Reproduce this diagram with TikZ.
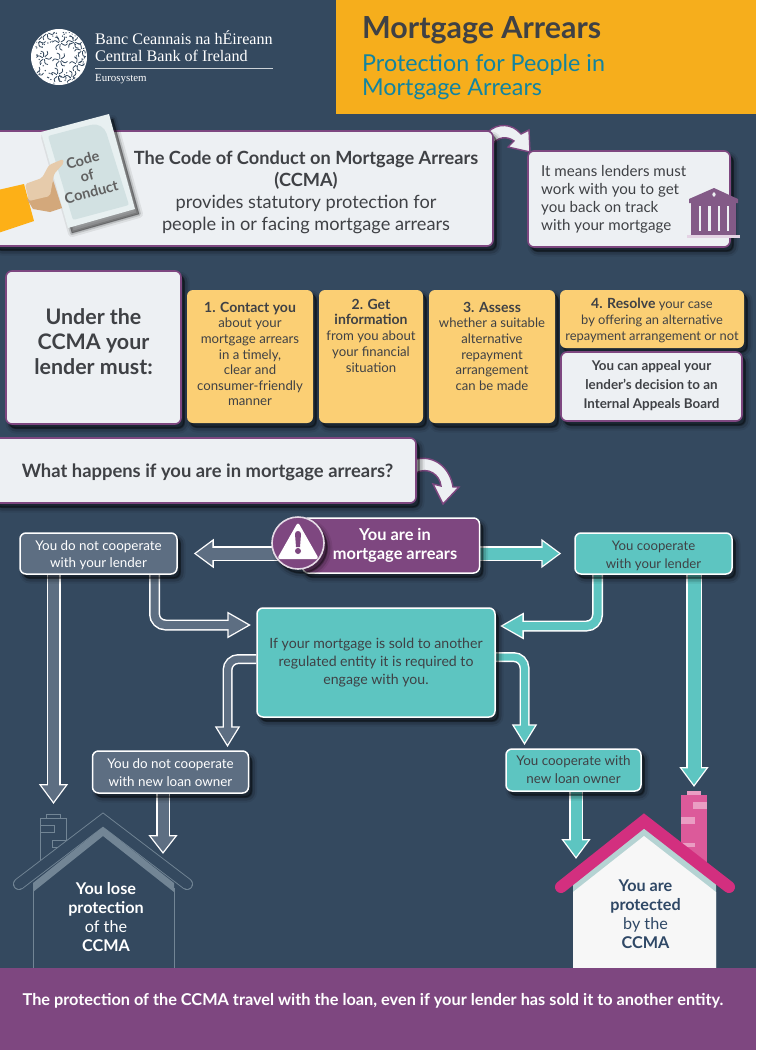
\documentclass[tikz,border=0pt]{standalone}
\usepackage{fontspec}
\setmainfont{Lato}
\newfontfamily\logofont{Liberation Serif}
\usetikzlibrary{arrows.meta,shadows,calc}
\definecolor{bgblue}{HTML}{34495F}
\definecolor{amber}{HTML}{F6AE1C}
\definecolor{inkdark}{HTML}{3F4145}
\definecolor{subteal}{HTML}{1284A0}
\definecolor{paper}{HTML}{EDF0F3}
\definecolor{plum}{HTML}{7E4780}
\definecolor{sand}{HTML}{FBCF74}
\definecolor{teal}{HTML}{5DC5C1}
\definecolor{slate}{HTML}{5D6E82}
\definecolor{hinge}{HTML}{728595}
\definecolor{rose}{HTML}{D32F7F}
\definecolor{chim}{HTML}{DC5A9A}
\definecolor{chimlite}{HTML}{EA9DC3}
\definecolor{mist}{HTML}{B5D3D3}
\definecolor{panel}{HTML}{D2E1E2}
\definecolor{cardw}{HTML}{E8F0F1}
\definecolor{bankc}{HTML}{835A87}
\definecolor{bankbase}{HTML}{E4D3E4}
\definecolor{housetxt}{HTML}{2F4866}
\definecolor{handdark}{HTML}{D3A87B}
\definecolor{handlight}{HTML}{E6CBAB}
\definecolor{sleeve}{HTML}{FDB017}
\pgfdeclarelayer{bgl}\pgfdeclarelayer{conn}\pgfsetlayers{bgl,conn,main}
\newcommand{\fs}[2]{\fontsize{#1}{#2}\selectfont}
\newcommand{\lift}[1]{\rule{0pt}{#1pt}}
\tikzset{
 softshadow/.style={
  general shadow={fill=black,draw=black,opacity=.07,line width=9pt,shadow xshift=4pt,shadow yshift=-5pt},
  general shadow={fill=black,draw=black,opacity=.14,line width=5pt,shadow xshift=4pt,shadow yshift=-5pt},
  general shadow={fill=black,draw=black,opacity=.25,line width=1.5pt,shadow xshift=3pt,shadow yshift=-4pt}},
 panelbox/.style={rectangle,rounded corners=6pt,inner sep=0pt,fill=paper,draw=plum,line width=1.6pt,softshadow,text=inkdark,align=center},
 sandbox/.style={rectangle,rounded corners=6pt,inner sep=0pt,fill=sand,softshadow,text=inkdark,align=center},
 flowbox/.style={rectangle,rounded corners=6pt,inner sep=0pt,draw=white,line width=1.5pt,softshadow,align=center,text=white},
 slatebox/.style={flowbox,fill=slate},
 tealbox/.style={flowbox,fill=teal,text=inkdark},
 plain/.style={inner sep=0pt,align=center},
 curvearrow/.style={fill=paper,draw=plum,line width=1.4pt,line join=miter}
}
% colour, outer, inner, head length, head width, extra shorten, path
\newcommand{\fatarrow}[7]{%
 \pgfmathsetmacro\tipoff{1.3*sqrt(#4*#4+#5*#5/4)/(#5/2)}%
 \pgfmathsetmacro\innerL{#4-1.3-\tipoff}%
 \pgfmathsetmacro\innerW{#5*\innerL/#4}%
 \pgfmathsetmacro\innerS{#6+\tipoff}%
 \draw[white,line width=#2pt,rounded corners=11pt,shorten >=#6pt,-{Triangle[length=#4pt,width=#5pt]}] #7;
 \draw[#1,line width=#3pt,rounded corners=11pt,shorten >=\innerS pt,-{Triangle[length=\innerL pt,width=\innerW pt]}] #7;
}
\begin{document}
\begin{tikzpicture}[x=1pt,y=-1pt]
\useasboundingbox (0,0) rectangle (756,1050);
\begin{pgfonlayer}{bgl}
\fill[bgblue] (0,0) rectangle (756,1050);
\end{pgfonlayer}
% header
\node[rectangle,fill=amber,minimum width=420pt,minimum height=114pt,inner sep=0pt] (header) at (546,57) {};
\node[plain,anchor=west,text=inkdark,font=\bfseries\fs{30.4}{32}] (title) at (362,30) {Mortgage Arrears};
\node[plain,anchor=north west,text=subteal,align=left,font=\fs{23.3}{24.5}] (subtitle) at (362,54) {Protection for People in\\Mortgage Arrears};
% logo
\fill[white] (59,57) circle (28pt);
\begin{scope}
\clip (59,57) circle (27pt);
\pgfmathsetseed{11}
\foreach \cx/\cy in {60/43,44/58,77/64,58/75,74/42,38/41,36/74,82/50,60/60,72/78,47/33}{
 \foreach \a in {0,60,...,300}{
  \pgfmathsetmacro\ra{\a+rnd*25}
  \draw[bgblue,line width=.8pt,line cap=round] ({\cx+1.5*cos(\ra)},{\cy+1.5*sin(\ra)}) .. controls ({\cx+4*cos(\ra)},{\cy+4*sin(\ra)}) and ({\cx+6*cos(\ra+25)},{\cy+6*sin(\ra+25)}) .. ({\cx+7.5*cos(\ra-10)},{\cy+7.5*sin(\ra-10)});
 }}
\foreach \i in {1,...,70}{
 \pgfmathsetmacro\ang{rnd*360}\pgfmathsetmacro\rr{17+rnd*10}
 \fill[bgblue] ({59+\rr*cos(\ang)},{57+\rr*sin(\ang)}) circle (.7pt);
}
\end{scope}
\node[plain,anchor=west,text=white,font=\logofont\fs{16.1}{17}] (bankga) at (95,38) {Banc Ceannais na hÉireann};
\node[plain,anchor=west,text=white,font=\logofont\fs{16.1}{17}] (banken) at (95,55.5) {Central Bank of Ireland};
\draw[white!75!bgblue,line width=.8pt] (95,68) -- (273,68);
\node[plain,anchor=west,text=white,font=\logofont\fs{10.9}{12}] (euro) at (95,79.5) {Eurosystem};
% banner
\node[panelbox,minimum width=501pt,minimum height=115pt] (banner) at (242.5,188.5) {};
\node[plain,text=inkdark,font=\fs{18.2}{22}] (bannertxt) at (306,192.5) {{\bfseries The Code of Conduct on Mortgage Arrears}\\{\bfseries (CCMA)}\\provides statutory protection for\\people in or facing mortgage arrears};
% card
\foreach \w/\o in {8/.07,4/.14,1/.2}{
 \draw[black,fill=black,opacity=\o,line width=\w pt,line join=round] (45,137) -- (113,119) -- (139,214) -- (72,233) -- cycle;
}
\fill[cardw] (41,132) -- (109,114) -- (135,209) -- (68,228) -- cycle;
\fill[panel,rounded corners=2pt] (48,136) -- (82,127) [rounded corners=12pt] -- (103,122) [rounded corners=2pt] -- (129,205) -- (73,220) -- cycle;
\node[plain,rotate=15,text=black!62,font=\bfseries\fs{14.5}{16.5}] (cardtxt) at (87,176) {Code\\of\\Conduct};
% hand
\fill[sleeve] (-2,190) -- (24,184) -- (34,221) -- (-2,233) -- cycle;
\fill[handdark] (27,199) -- (50,190) -- (53,180) -- (62,208) -- (50,212) -- (33,209) -- cycle;
\fill[handlight,rounded corners=2pt] (25,184) -- (42,178) -- (49,165) -- (63,159) -- (64,163) -- (54,174) -- (50,196) -- (29,201) -- cycle;
% right box
\node[panelbox,minimum width=202pt,minimum height=96pt] (means) at (629,199) {};
\node[plain,anchor=west,align=left,text=inkdark,font=\fs{15.1}{18}] (meanstxt) at (541,199) {It means lenders must\\work with you to get\\you back on track\\with your mortgage};
% bank icon
\fill[bankc] (689,199) -- (714,188) -- (738,199) -- (738,203) -- (689,203) -- cycle;
\fill[bankc] (691,203) rectangle (736,235);
\foreach \sx in {698.5,708,717.5,726.5}{\fill[paper] (\sx,206) rectangle (\sx+2.6,231);}
\fill[paper] (714,194.5) ellipse (1.6pt and 2.2pt);
\fill[bankbase] (687,235) rectangle (740,238);
% curved arrows
\begin{pgfonlayer}{conn}
\draw[curvearrow] (488,132) .. controls (497,123) and (512,123) .. (521,134) -- (529,130) -- (530,152) -- (508,147) -- (514,141) .. controls (507,136) and (498,136) .. (491,146) -- cycle;
\draw[curvearrow] (416,459) .. controls (435,455) and (450,468) .. (453,487) -- (459,487) -- (443,504) -- (433,484) -- (441,486) .. controls (440,475) and (428,466) .. (416,473) -- cycle;
\end{pgfonlayer}
% must row
\node[panelbox,minimum width=175pt,minimum height=153pt] (must) at (93.5,347.5) {};
\node[plain,text=inkdark,font=\bfseries\fs{21.4}{25}] (musttxt) at (93.5,342) {Under the\\CCMA your\\lender must:};
\node[sandbox,minimum width=126pt,minimum height=133pt] (s1) at (250,356.5) {};
\node[sandbox,minimum width=104pt,minimum height=133pt] (s2) at (371,356.5) {};
\node[sandbox,minimum width=126pt,minimum height=133pt] (s3) at (492,356.5) {};
\node[sandbox,minimum width=184pt,minimum height=58pt] (s4) at (652,319) {};
\node[panelbox,minimum width=181pt,minimum height=69pt] (appeal) at (651.5,386.5) {};
\node[plain,text=inkdark,font=\bfseries\fs{13.4}{19}] (appealtxt) at (651.5,385.5) {You can appeal your\\lender’s decision to an\\Internal Appeals Board};
\node[plain,anchor=north,text=inkdark,font=\fs{13.2}{15.6}] (s1t) at ([yshift=-12pt]s1.north) {{\bfseries\fs{14}{15.6}1. Contact you}\\about your\\mortgage arrears\\in a timely,\\clear and\\consumer-friendly\\manner};
\node[plain,anchor=north,text=inkdark,font=\fs{13.2}{15.7}] (s2t) at ([yshift=-9pt]s2.north) {{\bfseries\fs{14}{18}2. Get}\\{\bfseries\fs{14}{16.5}information}\\from you about\\your financial\\situation};
\node[plain,anchor=north,text=inkdark,font=\fs{13.1}{15.6}] (s3t) at ([yshift=-12pt]s3.north) {{\bfseries\fs{14}{15.6}3. Assess}\\whether a suitable\\alternative\\repayment\\arrangement\\can be made};
\node[plain,text=inkdark,font=\fs{12.9}{16}] (s4t) at ([yshift=-1pt]s4.center) {{\bfseries\fs{14}{16}4. Resolve} your case\\by offering an alternative\\repayment arrangement or not};
% what happens
\node[panelbox,minimum width=424pt,minimum height=65pt] (what) at (204,470.5) {};
\node[plain,text=inkdark,font=\bfseries\fs{18.4}{20}] (whattxt) at (207.5,472.5) {What happens if you are in mortgage arrears?};
% flow nodes
\node[flowbox,fill=plum,text=white,minimum width=177pt,minimum height=55pt,font=\bfseries\fs{16.4}{19}] (arrearsbox) at (391,545.5) {\hspace*{8pt}You are in\\\hspace*{8pt}mortgage arrears};
\node[circle,fill=plum,draw=white!80!plum,line width=1.6pt,minimum size=52pt,inner sep=0pt,softshadow] (warn) at (298,543) {};
\fill[white,rounded corners=3pt] (298,522) -- (319,559) -- (277,559) -- cycle;
\fill[plum] (295,534) .. controls (295,530) and (301,530) .. (301,534) -- (300,547) -- (296,547) -- cycle;
\fill[plum] (298,551) circle (3pt);
\node[slatebox,minimum width=157pt,minimum height=41pt,font=\fs{13.4}{17}] (nocoop) at (98.5,553.5) {\lift{14}You do not cooperate\\with your lender};
\node[tealbox,minimum width=157pt,minimum height=41pt,font=\fs{13.2}{18}] (coop) at (653.5,553.5) {\lift{14}You cooperate\\with your lender};
\node[tealbox,minimum width=238pt,minimum height=109pt,font=\fs{14.1}{18}] (engage) at (376,662.5) {If your mortgage is sold to another\\regulated entity it is required to\\engage with you.};
\node[slatebox,minimum width=156pt,minimum height=42pt,font=\fs{13.4}{18}] (newno) at (170.5,772) {\lift{12}You do not cooperate\\with new loan owner};
\node[tealbox,minimum width=135pt,minimum height=42pt,font=\fs{13.4}{18}] (newyes) at (573.5,770) {You cooperate with\\new loan owner};
\coordinate (lostend) at (53.5,804);
\coordinate (keptend) at (694,787);
\coordinate (newnoend) at (163,854);
\coordinate (newyesend) at (576,859);
% connectors
\begin{pgfonlayer}{conn}
\fatarrow{slate}{15}{12}{20}{28}{16}{(warn.center |- nocoop.east) -- (nocoop.east)}
\fatarrow{teal}{15}{12}{20}{28}{13}{(arrearsbox.east |- coop.west) -- (coop.west)}
\fatarrow{slate}{14}{11}{20}{28}{0}{([xshift=-45pt]nocoop.south) -- (lostend)}
\fatarrow{teal}{16}{13}{20}{28}{0}{([xshift=40.5pt]coop.south) -- (keptend)}
\fatarrow{slate}{11}{8}{24}{25}{5}{([xshift=56pt]nocoop.south) |- ([yshift=37.5pt]engage.west)}
\fatarrow{teal}{11}{8}{24}{25}{4}{([xshift=-56pt]coop.south) |- ([yshift=36.5pt]engage.east)}
\fatarrow{slate}{10}{7}{21}{24}{3}{([yshift=3.5pt]engage.west) -| ([xshift=57pt]newno.north)}
\fatarrow{teal}{10}{7}{21}{24}{3}{([yshift=5.5pt]engage.east) -| ([xshift=-49pt]newyes.north)}
\fatarrow{slate}{14}{11}{19}{28}{0}{([xshift=-7.5pt]newno.south) -- (newnoend)}
\fatarrow{teal}{14}{11}{20}{28}{0}{([xshift=2.5pt]newyes.south) -- (newyesend)}
\end{pgfonlayer}
% left house
\draw[hinge,line width=.9pt] (40,860) -- (40,818) -- (66,818) -- (66,840);
\draw[hinge,line width=.9pt] (46,818) -- (46,814) -- (60,814) -- (60,818);
\draw[hinge,line width=.9pt] (40,825) rectangle (54,832);
\draw[hinge,line width=.9pt] (52,840) rectangle (66,847);
\fill[hinge] (33,883) -- (103,827) -- (174,883) -- (174,892) -- (103,836) -- (33,892) -- cycle;
\draw[hinge,line width=.9pt] (33,888) -- (33,968);
\draw[hinge,line width=.9pt] (174,888) -- (174,968);
\draw[hinge,line width=12pt,line cap=round,line join=miter] (19,884) -- (103,820) -- (187,884);
\draw[bgblue,line width=10.2pt,line cap=round,line join=miter] (19,884) -- (103,820) -- (187,884);
\node[plain,text=white,font=\bfseries\fs{16.2}{19}] (losttxt) at (106,917) {You lose\\protection\\{\mdseries of the}\\CCMA};
% right house
\fill[chim] (681,795) rectangle (707,868);
\fill[chimlite] (687,791) rectangle (701,795);
\fill[chimlite] (693,802) rectangle (707,809);
\fill[chimlite] (681,817) rectangle (695,824);
\fill[chimlite] (681,843) rectangle (695,847);
\fill[mist] (573,880) -- (644,827) -- (716,880) -- (716,968) -- (573,968) -- cycle;
\fill[white!97!black] (573,892) -- (644,836) -- (716,892) -- (716,968) -- (573,968) -- cycle;
\draw[rose,line width=12pt,line cap=round,line join=miter] (561,887) -- (644,821) -- (729,887);
\node[plain,text=housetxt,font=\bfseries\fs{16.2}{19}] (kepttxt) at (645.5,914) {You are\\protected\\{\mdseries by the}\\CCMA};
% strip
\node[rectangle,fill=plum,minimum width=756pt,minimum height=82pt,inner sep=0pt] (strip) at (378,1009) {};
\node[plain,text=white,font=\bfseries\fs{16.3}{18}] (striptxt) at (373,1000.5) {The protection of the CCMA travel with the loan, even if your lender has sold it to another entity.};
\end{tikzpicture}
\end{document}
